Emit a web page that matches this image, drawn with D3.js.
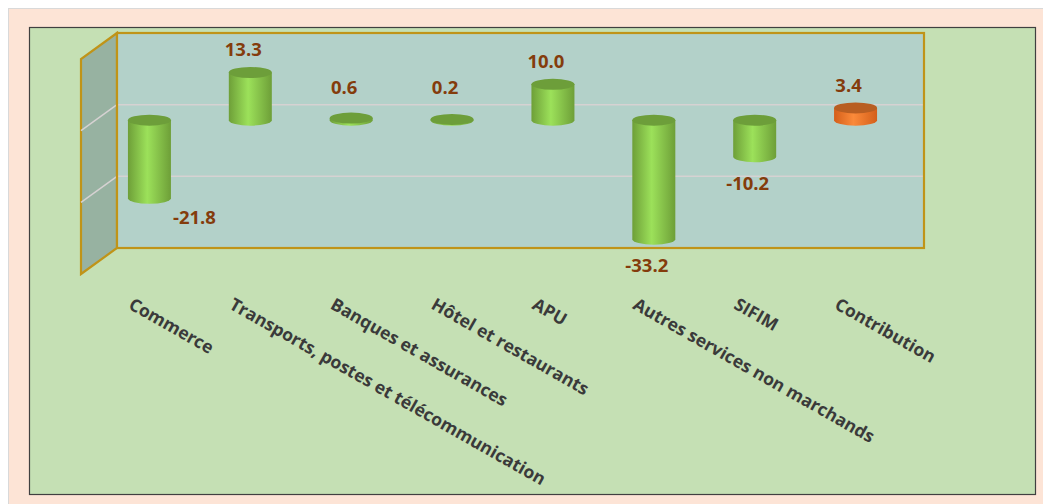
<!DOCTYPE html>
<meta charset="utf-8">
<html>
<head>
<script src="https://d3js.org/d3.v7.min.js"></script>
<style>
  body { margin: 0; background: #fff; }
  text { font-family: "Open Sans", sans-serif; font-weight: bold; }
</style>
</head>
<body>
<script>

// chart data
var categories = ["Commerce", "Transports, postes et télécommunication", "Banques et assurances",
  "Hôtel et restaurants", "APU", "Autres services non marchands", "SIFIM", "Contribution"];
var values = [-21.8, 13.3, 0.6, 0.2, 10.0, -33.2, -10.2, 3.4];
var isTotal = [false, false, false, false, false, false, false, true];
var gridValues = [0, -20];

var width = 1043, height = 504;

var svg = d3.select("body").append("svg")
  .attr("width", width)
  .attr("height", height);

// gradients for the cylinders
var defs = svg.append("defs");
function addGrad(id, edge, mid) {
  var g = defs.append("linearGradient").attr("id", id)
    .attr("x1", "0%").attr("x2", "100%").attr("y1", "0%").attr("y2", "0%");
  g.append("stop").attr("offset", "0%").attr("stop-color", edge);
  g.append("stop").attr("offset", "45%").attr("stop-color", mid);
  g.append("stop").attr("offset", "100%").attr("stop-color", edge);
}
addGrad("gGreen", "#6e9f38", "#9ce15a");
addGrad("gOrange", "#d45f1a", "#fb8a3a");

// backgrounds
svg.append("rect").attr("x", 8.5).attr("y", 8.5).attr("width", 1040).attr("height", 500)
  .attr("fill", "#fde4d6").attr("stroke", "#d9d9d9");
svg.append("rect").attr("x", 29.5).attr("y", 27.5).attr("width", 1006).attr("height", 467)
  .attr("fill", "#c5e0b4").attr("stroke", "#404040").attr("stroke-width", 1.2);

// scales for the back wall
var x = d3.scaleBand().domain(categories).range([117, 924]);
var y = d3.scaleLinear().domain([-40, 20]).range([248, 33]);

// depth of the side wall and offset of the bars in front of the back wall
var depth = [-36, 26];
var front = [-18, 15.5];

// side wall
var side = svg.append("g");
side.append("path")
  .attr("d", "M117," + y(20) + "L" + (117 + depth[0]) + "," + (y(20) + depth[1]) +
    "L" + (117 + depth[0]) + "," + (y(-40) + depth[1]) + "L117," + y(-40) + "Z")
  .attr("fill", "#97b2a1").attr("stroke", "#c09418").attr("stroke-width", 2.2);

// back wall
svg.append("rect")
  .attr("x", 117).attr("y", y(20)).attr("width", 924 - 117).attr("height", y(-40) - y(20))
  .attr("fill", "#b3d1c9");

// gridlines
gridValues.forEach(function(v) {
  svg.append("line")
    .attr("x1", 117).attr("x2", 924).attr("y1", y(v)).attr("y2", y(v))
    .attr("stroke", "#d6d2d2").attr("stroke-width", 1.5);
  side.append("line")
    .attr("x1", 117).attr("x2", 117 + depth[0]).attr("y1", y(v)).attr("y2", y(v) + depth[1])
    .attr("stroke", "#d6d2d2").attr("stroke-width", 1.5);
});

svg.append("rect")
  .attr("x", 117).attr("y", y(20)).attr("width", 924 - 117).attr("height", y(-40) - y(20))
  .attr("fill", "none").attr("stroke", "#c09418").attr("stroke-width", 2.2);

// cylinders
var rx = 21.5, ry = 5.5;
var bars = svg.selectAll("g.bar")
  .data(values)
  .enter().append("g").attr("class", "bar");

bars.each(function(v, i) {
  var g = d3.select(this);
  var cx = x(categories[i]) + x.bandwidth() / 2 + front[0];
  var y0 = y(0) + front[1], y1 = y(v) + front[1];
  var top = Math.min(y0, y1), bot = Math.max(y0, y1);
  var grad = isTotal[i] ? "url(#gOrange)" : "url(#gGreen)";
  var capColor = isTotal[i] ? "#b85e22" : "#6d9e3a";
  g.append("path")
    .attr("d", "M" + (cx - rx) + "," + top + "L" + (cx - rx) + "," + bot +
      "A" + rx + "," + ry + " 0 0 0 " + (cx + rx) + "," + bot +
      "L" + (cx + rx) + "," + top + "Z")
    .attr("fill", grad);
  g.append("ellipse")
    .attr("cx", cx).attr("cy", top).attr("rx", rx).attr("ry", ry)
    .attr("fill", capColor);

  // value labels
  var ly = v >= 0 ? Math.min(top, y0 - 10) - 21 : bot + 28;
  var lx = cx - 7;
  if (i === 0) { lx = cx + 45; ly = bot + 21; }
  g.append("text")
    .attr("x", lx).attr("y", ly)
    .attr("text-anchor", "middle").attr("dominant-baseline", "middle")
    .attr("font-size", 18.5).attr("fill", "#843c0c")
    .text(v.toFixed(1));
});

// category labels
svg.selectAll("text.cat")
  .data(categories)
  .enter().append("text")
  .attr("class", "cat")
  .attr("transform", function(d) {
    var cx = x(d) + x.bandwidth() / 2 + front[0];
    return "translate(" + (cx - 22) + ",308) rotate(29.6)";
  })
  .attr("font-size", 17.5)
  .attr("fill", "#3a3a3a")
  .text(function(d) { return d; });

</script>
</body>
</html>
